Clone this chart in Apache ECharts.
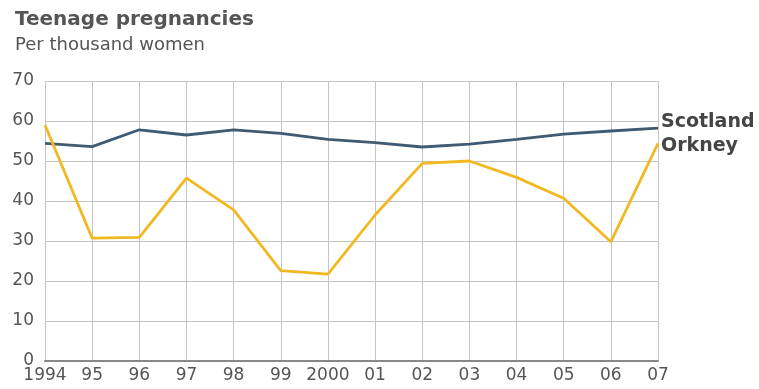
<html>
<head>
<meta charset="UTF-8">
<script src="https://cdn.jsdelivr.net/npm/echarts@6/dist/echarts.min.js"></script>
</head>
<body style="margin:0;background:#fff">
<div id="chart" style="width:759px;height:389px"></div>
<script>
    // years along the bottom
    var years = ['1994', '95', '96', '97', '98', '99', '2000', '01', '02', '03', '04', '05', '06', '07'];
    // per thousand women
    var scotland = [54.4, 53.6, 57.8, 56.5, 57.8, 56.9, 55.4, 54.6, 53.5, 54.2, 55.4, 56.7, 57.5, 58.2];
    var orkney = [59, 30.7, 30.9, 45.7, 37.8, 22.6, 21.7, 36.5, 49.4, 50, 45.9, 40.7, 29.8, 54.4];

    var chart = echarts.init(document.getElementById('chart'));
    var font = 'DejaVu Sans, Verdana, sans-serif';

    chart.setOption({
        animation: false,
        title: [
            {text: 'Teenage pregnancies', left: 10, top: 5,
             textStyle: {fontFamily: font, fontSize: 20, fontWeight: 'bold', color: '#555'}},
            {text: 'Per thousand women', left: 10, top: 31,
             textStyle: {fontFamily: font, fontSize: 18, fontWeight: 'normal', color: '#555'}}
        ],
        grid: {left: 45, right: 101, top: 81, bottom: 28},
        xAxis: {
            type: 'category',
            data: years,
            boundaryGap: false,
            axisLine: {lineStyle: {color: '#888', width: 2}},
            axisTick: {show: false},
            axisLabel: {interval: 0, fontFamily: font, fontSize: 17, color: '#555', margin: 6},
            splitLine: {show: true, interval: 0, lineStyle: {color: '#c4c4c4'}}
        },
        yAxis: {
            type: 'value',
            min: 0, max: 70, interval: 10,
            axisLine: {show: false},
            axisTick: {show: false},
            axisLabel: {fontFamily: font, fontSize: 17, color: '#555', margin: 11},
            splitLine: {lineStyle: {color: '#c4c4c4'}}
        },
        series: [
            {
                name: 'Scotland', type: 'line', data: scotland,
                symbol: 'none',
                lineStyle: {color: '#3e5b72', width: 2.8},
                endLabel: {show: true, formatter: '{a}', distance: 3, offset: [0, -6],
                    fontFamily: font, fontSize: 19, fontWeight: 'bold', color: '#444'}
            },
            {
                name: 'Orkney', type: 'line', data: orkney,
                symbol: 'none',
                lineStyle: {color: '#f2b821', width: 2.8},
                endLabel: {show: true, formatter: '{a}', distance: 3, offset: [0, 3],
                    fontFamily: font, fontSize: 19, fontWeight: 'bold', color: '#444'}
            }
        ]
    });
</script>
</body>
</html>
